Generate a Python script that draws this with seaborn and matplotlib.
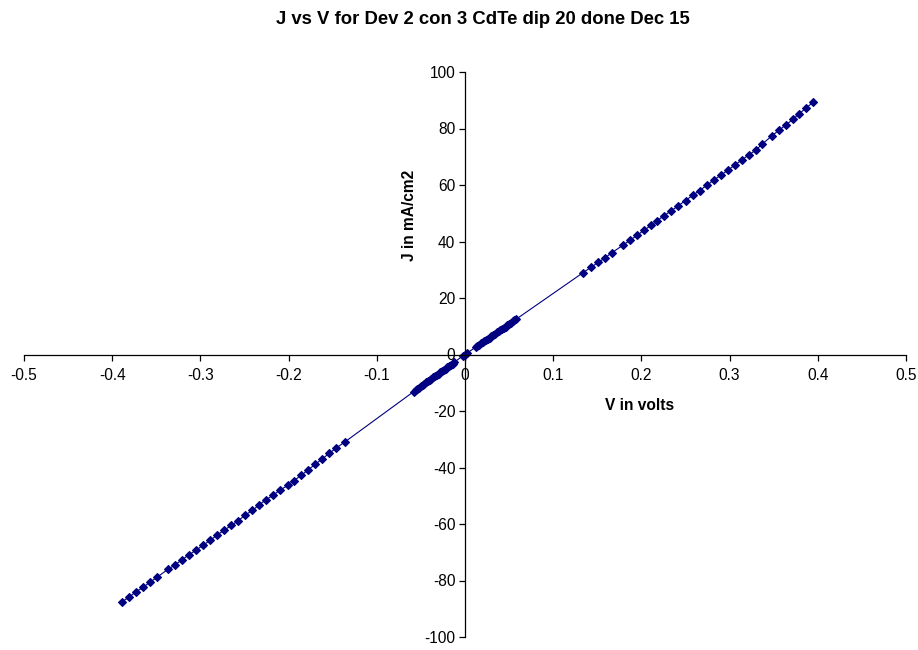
import matplotlib
matplotlib.use("Agg")
import matplotlib.pyplot as plt
import seaborn as sns
import pandas as pd

# Reverse bias, far sweep
v_rev_far = [-0.389, -0.381, -0.373, -0.365, -0.357, -0.349, -0.337, -0.329,
             -0.321, -0.313, -0.305, -0.297, -0.289, -0.281, -0.273, -0.265,
             -0.257, -0.249, -0.241, -0.234, -0.226, -0.218, -0.210, -0.201,
             -0.194, -0.186, -0.178, -0.170, -0.162, -0.154, -0.146, -0.136]
j_rev_far = [-87.6, -85.9, -84.0, -82.4, -80.6, -78.8, -76.1, -74.5,
             -72.7, -70.9, -69.3, -67.5, -65.8, -63.9, -62.2, -60.5,
             -58.8, -56.8, -55.2, -53.4, -51.5, -49.9, -48.1, -46.3,
             -44.7, -42.8, -40.9, -38.9, -37.0, -35.0, -33.1, -30.9]

# Reverse bias, near zero
v_rev_near = [-0.058, -0.056, -0.054, -0.052, -0.050, -0.048, -0.046, -0.044,
              -0.042, -0.040, -0.038, -0.036, -0.034, -0.032, -0.030, -0.028,
              -0.026, -0.024, -0.022, -0.020, -0.018, -0.016, -0.014, -0.012]
j_rev_near = [-13.1, -12.6, -12.2, -11.7, -11.3, -10.8, -10.4, -9.9,
              -9.5, -9.0, -8.6, -8.1, -7.7, -7.2, -6.8, -6.3,
              -5.9, -5.4, -5.0, -4.5, -4.1, -3.6, -3.2, -2.7]

# Around zero bias
v_zero = [-0.002, 0.000, 0.002]
j_zero = [-0.4, 0.0, 0.4]

# Forward bias, near zero
v_fwd_near = [0.012, 0.014, 0.016, 0.018, 0.020, 0.022, 0.024, 0.026,
              0.028, 0.030, 0.032, 0.034, 0.036, 0.038, 0.040, 0.042,
              0.044, 0.046, 0.048, 0.050, 0.052, 0.054, 0.056, 0.058]
j_fwd_near = [2.6, 3.0, 3.4, 3.9, 4.3, 4.7, 5.2, 5.6,
              6.0, 6.5, 6.9, 7.3, 7.8, 8.2, 8.6, 9.1,
              9.5, 9.9, 10.4, 10.8, 11.2, 11.7, 12.1, 12.5]

# Forward bias, far sweep
v_fwd_far = [0.134, 0.143, 0.151, 0.159, 0.167, 0.179, 0.187, 0.195,
             0.203, 0.211, 0.218, 0.226, 0.234, 0.242, 0.250, 0.258,
             0.266, 0.274, 0.282, 0.290, 0.298, 0.306, 0.314, 0.322,
             0.330, 0.337, 0.348, 0.356, 0.364, 0.372, 0.379, 0.387, 0.395]
j_fwd_far = [29.0, 30.9, 32.6, 34.3, 36.1, 38.7, 40.4, 42.2,
             44.0, 45.7, 47.4, 49.2, 50.9, 52.7, 54.5, 56.3,
             58.0, 59.9, 61.7, 63.5, 65.2, 67.1, 68.9, 70.7,
             72.4, 74.5, 77.4, 79.4, 81.3, 83.3, 85.3, 87.3, 89.4]

x_ticks = [-0.5, -0.4, -0.3, -0.2, -0.1, 0, 0.1, 0.2, 0.3, 0.4, 0.5]
x_tick_labels = ["-0.5", "-0.4", "-0.3", "-0.2", "-0.1", "0", "0.1", "0.2", "0.3", "0.4", "0.5"]
y_ticks = [-100, -80, -60, -40, -20, 0, 20, 40, 60, 80, 100]
y_tick_labels = ["-100", "-80", "-60", "-40", "-20", "0", "20", "40", "60", "80", "100"]

df = pd.DataFrame({
    "V": v_rev_far + v_rev_near + v_zero + v_fwd_near + v_fwd_far,
    "J": j_rev_far + j_rev_near + j_zero + j_fwd_near + j_fwd_far,
})

sns.set_style("white")
plt.rcParams["font.family"] = ["Liberation Sans", "DejaVu Sans"]
plt.rcParams["text.color"] = "black"

W, H = 918, 650
fig = plt.figure(figsize=(W / 100, H / 100), dpi=100)
ax = fig.add_axes([24 / W, 1 - 637 / H, (906 - 24) / W, (637 - 72) / H])

navy = "#000080"
sns.lineplot(data=df, x="V", y="J", sort=False, estimator=None, ax=ax,
             color=navy, linewidth=0.8, marker="D", markersize=4.0,
             markeredgecolor=navy, markeredgewidth=0.8, markerfacecolor=navy)

ax.set_xlim(-0.5, 0.5)
ax.set_ylim(-100, 100)

for side in ("top", "right"):
    ax.spines[side].set_visible(False)
ax.spines["left"].set_position(("data", 0))
ax.spines["bottom"].set_position(("data", 0))
for side in ("left", "bottom"):
    ax.spines[side].set_color("black")
    ax.spines[side].set_linewidth(0.9)

ax.set_xticks(x_ticks)
ax.set_xticklabels(x_tick_labels)
ax.set_yticks(y_ticks)
ax.set_yticklabels(y_tick_labels)
ax.tick_params(axis="both", which="major", direction="out", length=4,
               width=0.9, color="black", labelsize=11.2, labelcolor="black",
               bottom=True, left=True, pad=3)
ax.xaxis.set_tick_params(pad=6)
ax.set_xlabel("")
ax.set_ylabel("")
ax.grid(False)

fig.text(483 / W, 1 - 19 / H, "J vs V for Dev 2 con 3 CdTe dip 20 done Dec 15",
         ha="center", va="center", fontsize=13.3, fontweight="bold", color="black")
fig.text(640 / W, 1 - 406 / H, "V in volts", ha="center", va="center",
         fontsize=11.2, fontweight="bold", color="black")
fig.text(410 / W, 1 - 215 / H, "J in mA/cm2", ha="center", va="center",
         rotation=90, fontsize=11.2, fontweight="bold", color="black")

fig.savefig("out.png", dpi=100, facecolor="white")
